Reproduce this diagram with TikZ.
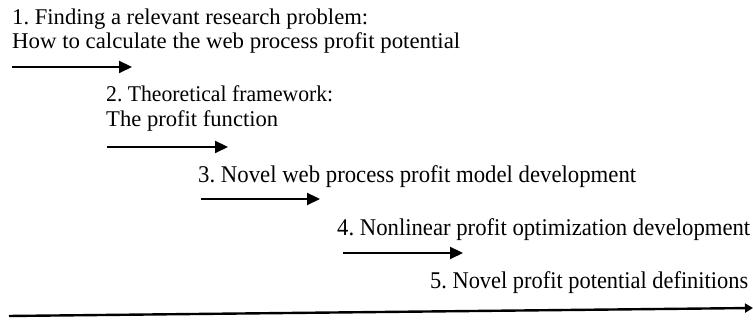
\documentclass[tikz,border=0pt]{standalone}
\usepackage{fontspec}
\setmainfont{Liberation Serif}
\usetikzlibrary{arrows.meta}
\frenchspacing
% set a label at a given width, keeping its natural height
\newcommand\fitto[2]{\resizebox{#1}{\height}{#2}}
\begin{document}
\begin{tikzpicture}[x=1pt,y=1pt,
  lbl/.style={anchor=base west,inner sep=0pt,font=\fontsize{22.5}{25}\selectfont},
  lblb/.style={lbl,font=\fontsize{24}{28}\selectfont},
  stage/.style={line width=2.2pt,-{Triangle[length=13pt,width=12pt]}},
  span/.style={line width=2.4pt,-{Triangle[length=8pt,width=9pt]}}]
\useasboundingbox (0,0) rectangle (753,320);
% stage labels
\node[lbl] (t1a) at (12,295) {\fitto{356pt}{1. Finding a relevant research problem:}};
\node[lbl] (t1b) at (12,271) {\fitto{448pt}{How to calculate the web process profit potential}};
\node[lbl] (t2a) at (106,218) {\fitto{227pt}{2. Theoretical framework:}};
\node[lbl] (t2b) at (106,193) {\fitto{172pt}{The profit function}};
\node[lblb] (t3) at (198,137) {\fitto{438pt}{3. Novel web process profit model development}};
\node[lblb] (t4) at (337,84) {\fitto{413pt}{4. Nonlinear profit optimization development}};
\node[lblb] (t5) at (430,31) {\fitto{318pt}{5. Novel profit potential definitions}};
% arrow end points
\coordinate (a1s) at (12,253);  \coordinate (a1e) at (132,253);
\coordinate (a2s) at (107,173); \coordinate (a2e) at (228,173);
\coordinate (a3s) at (201,121); \coordinate (a3e) at (320,121);
\coordinate (a4s) at (343,67);  \coordinate (a4e) at (463,67);
\coordinate (ts) at (9,4);      \coordinate (te) at (753,12);
\draw[stage] (a1s) -- (a1e);
\draw[stage] (a2s) -- (a2e);
\draw[stage] (a3s) -- (a3e);
\draw[stage] (a4s) -- (a4e);
\draw[span] (ts) -- (te);
\end{tikzpicture}
\end{document}
